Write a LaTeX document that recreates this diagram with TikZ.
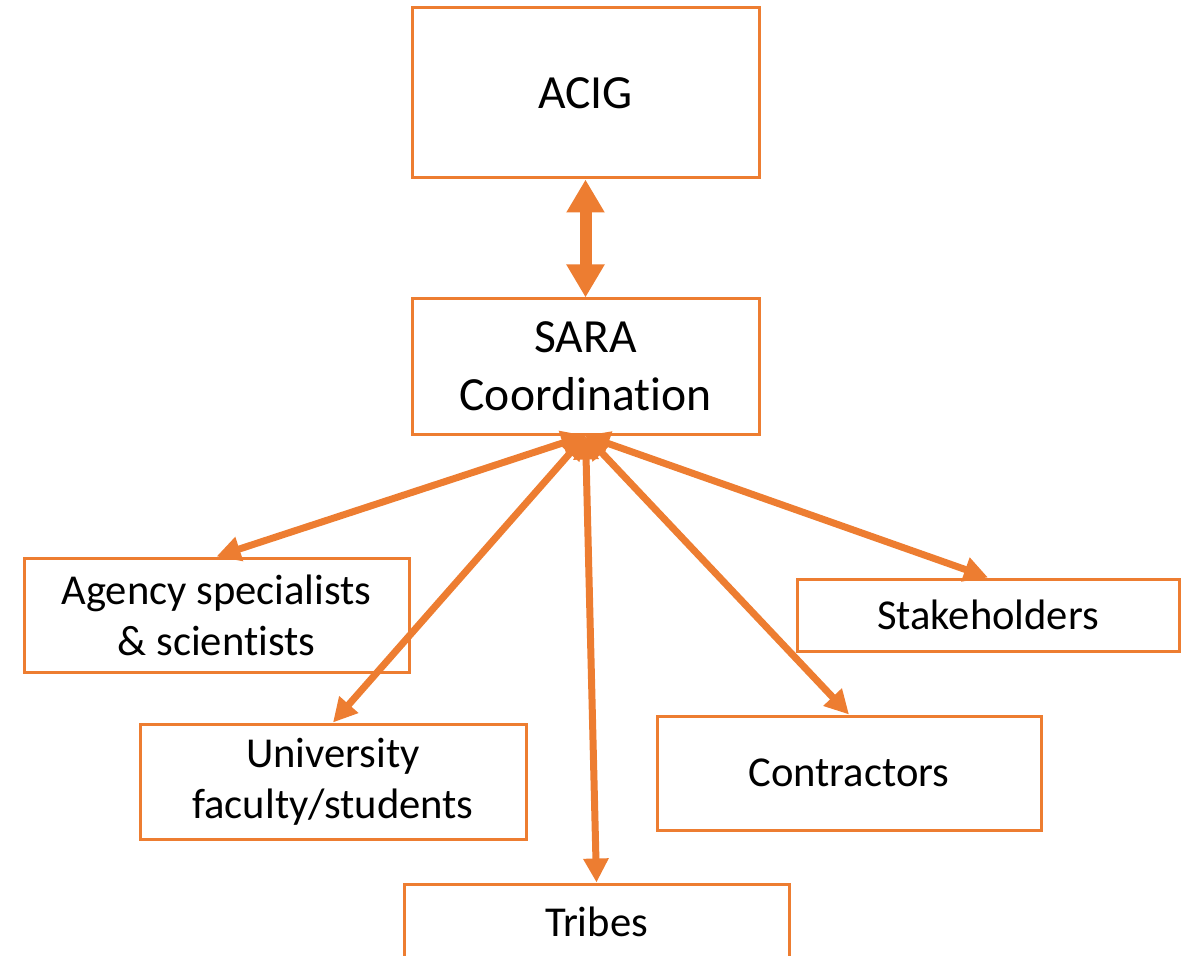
\documentclass[tikz,border=0pt]{standalone}
\usepackage{fontspec}
\setmainfont{Carlito}[Ligatures=NoCommon]
\usetikzlibrary{arrows.meta}
\definecolor{saraorange}{HTML}{ED7D31}
\tikzset{
  box/.style={draw=saraorange, line width=1.5pt, align=center, inner sep=0pt},
  bigtext/.style={font=\fontsize{23.8}{29}\selectfont},
  smalltext/.style={font=\fontsize{21.3}{25.5}\selectfont},
  link/.style={draw=saraorange, line width=3.5pt,
    {Triangle[length=12pt,width=12pt]}-{Triangle[length=12pt,width=12pt]}},
  biglink/.style={draw=saraorange, line width=6pt,
    {Triangle[length=16.5pt,width=18pt]}-{Triangle[length=16.5pt,width=18pt]}}
}

\begin{document}
\begin{tikzpicture}[x=0.5pt, y=-0.5pt]
		%%%%% START %%%%%
		\useasboundingbox (0, 0) rectangle (1181, 956);
		
		\node[box, bigtext, minimum width=173.5pt, minimum height=85pt] (acig) at (585.5, 93) {ACIG};
		\node[box, bigtext, minimum width=173.5pt, minimum height=67.5pt] (sara) at (585.5, 366.5) {SARA\\Coordination};
		
		\node[box, smalltext, minimum width=192.5pt, minimum height=57pt] (agency) at (216.5, 615) {Agency specialists\\\& scientists};
		\node[box, smalltext, minimum width=191pt, minimum height=36pt] (stake) at (988, 615) {Stakeholders};
		\node[box, smalltext, minimum width=193pt, minimum height=57.5pt] (univ) at (333, 781.5) {University\\faculty/students};
		\node[box, smalltext, minimum width=192pt, minimum height=57pt] (contr) at (849, 773) {Contractors};
		% bottom edge falls outside the page
		\node[box, smalltext, minimum width=192.5pt, minimum height=40pt] (tribes) at (596.5, 924) {\raisebox{2pt}{Tribes}};
		
		\draw[biglink] (acig.south) -- (sara.north);
		
		\draw[link] (sara.south) -- (agency.north);
		\draw[link] (sara.south) -- (univ.north);
		\draw[link] (sara.south) -- (tribes.north);
		\draw[link] (sara.south) -- (contr.north);
		\draw[link] (sara.south) -- (stake.north);
		
		%%%%% END %%%%%
\end{tikzpicture}
\end{document}
